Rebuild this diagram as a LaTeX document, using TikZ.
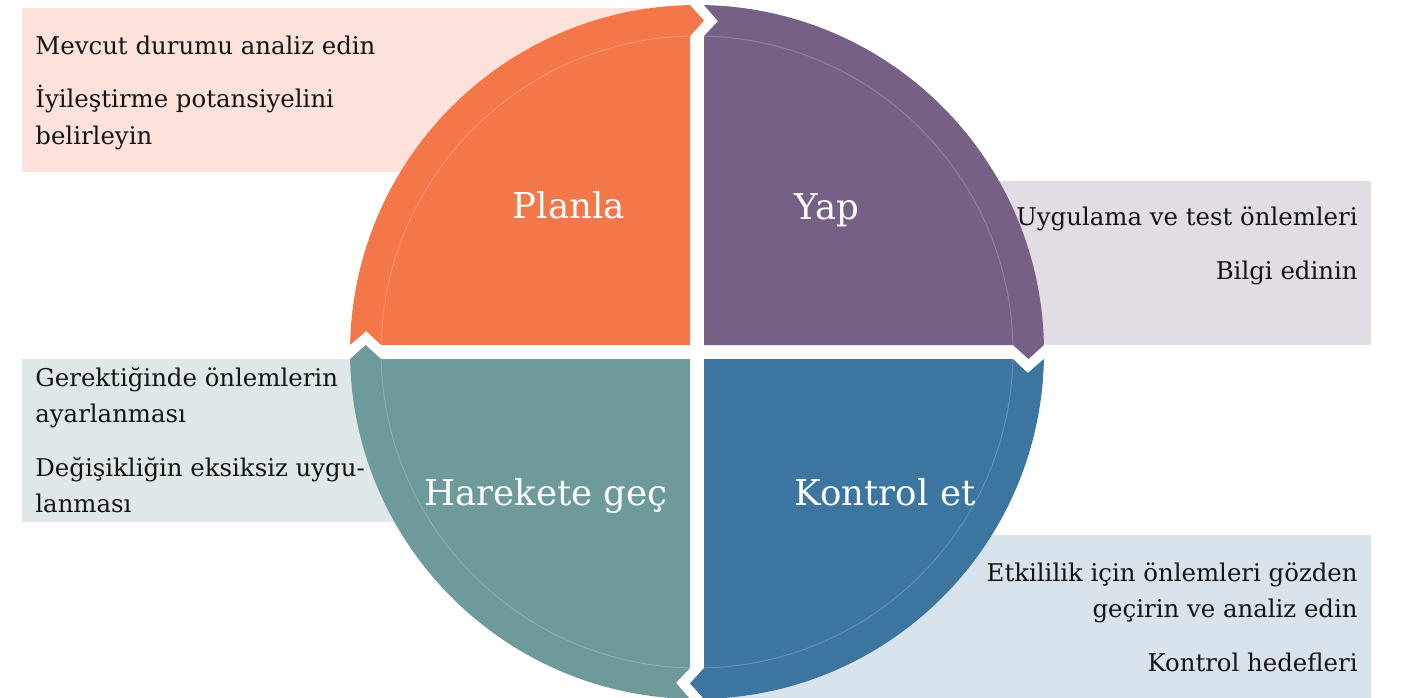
\documentclass[tikz,border=0pt]{standalone}
\usepackage{fontspec}
\setmainfont{DejaVu Serif}

% quadrant fills and the light boxes behind them
\definecolor{planC}{HTML}{F4774A}
\definecolor{doC}{HTML}{776086}
\definecolor{checkC}{HTML}{3B75A0}
\definecolor{actC}{HTML}{6E9A9C}
\definecolor{planBox}{HTML}{FDE2DB}
\definecolor{doBox}{HTML}{E2DDE5}
\definecolor{checkBox}{HTML}{D8E3EC}
\definecolor{actBox}{HTML}{DEE8E8}
\definecolor{ink}{HTML}{141414}

\tikzset{
  rim/.style={draw=white, draw opacity=0.2, line width=0.5},
  head/.style={text=white, font=\fontsize{17.8}{20}\selectfont, anchor=base, inner sep=0pt},
  bodyL/.style={text=ink, font=\fontsize{12.2}{15}\selectfont, anchor=base west, inner sep=0pt},
  bodyR/.style={text=ink, font=\fontsize{12.2}{15}\selectfont, anchor=base east, inner sep=0pt},
}

\begin{document}
\begin{tikzpicture}[x=0.5pt, y=0.5pt, yscale=-1]
\useasboundingbox (0,0) rectangle (1407,697);

% text boxes, kept clear of the white cross between the quarters
\fill[planBox]  (22,8)    rectangle (690,172);
\fill[doBox]    (704,181) rectangle (1371,345);
\fill[actBox]   (22,359)  rectangle (690,522);
\fill[checkBox] (704,535) rectangle (1371,699);

% four quarters of the cycle, each with an arrow head on its outer band
\foreach \rot/\col in {0/planC, 90/doC, 180/checkC, 270/actC}{
  \begin{scope}[shift={(697,352)}, rotate=\rot]
    \fill[\col] (-7,-7) -- (-7,-315.92) -- (7,-331.43) -- (-7,-346.93)
      arc[start angle=-91.156, end angle=-178.844, radius=347]
      -- (-330.83,-21) -- (-315.92,-7) -- cycle;
    \draw[rim] (-91.27:316) arc[start angle=-91.27, end angle=-178.73, radius=316];
  \end{scope}
}

% quarter titles
\node[head] (plan)  at (569,218) {Planla};
\node[head] (do)    at (827,219) {Yap};
\node[head] (act)   at (546,505) {Harekete geç};
\node[head] (check) at (885,505) {Kontrol et};

% plan notes
\node[bodyL] (p1) at (35,54)  {Mevcut durumu analiz edin};
\node[bodyL] (p2) at (35,107) {İyileştirme potansiyelini};
\node[bodyL] (p3) at (35,144) {belirleyin};

% do notes
\node[bodyR] (d1) at (1358,225) {Uygulama ve test önlemleri};
\node[bodyR] (d2) at (1358,279) {Bilgi edinin};

% act notes
\node[bodyL] (a1) at (35,386) {Gerektiğinde önlemlerin};
\node[bodyL] (a2) at (35,422) {ayarlanması};
\node[bodyL] (a3) at (35,476) {Değişikliğin eksiksiz uygu-};
\node[bodyL] (a4) at (35,512) {lanması};

% check notes
\node[bodyR] (c1) at (1358,581) {Etkililik için önlemleri gözden};
\node[bodyR] (c2) at (1358,617) {geçirin ve analiz edin};
\node[bodyR] (c3) at (1358,671) {Kontrol hedefleri};
\end{tikzpicture}
\end{document}
